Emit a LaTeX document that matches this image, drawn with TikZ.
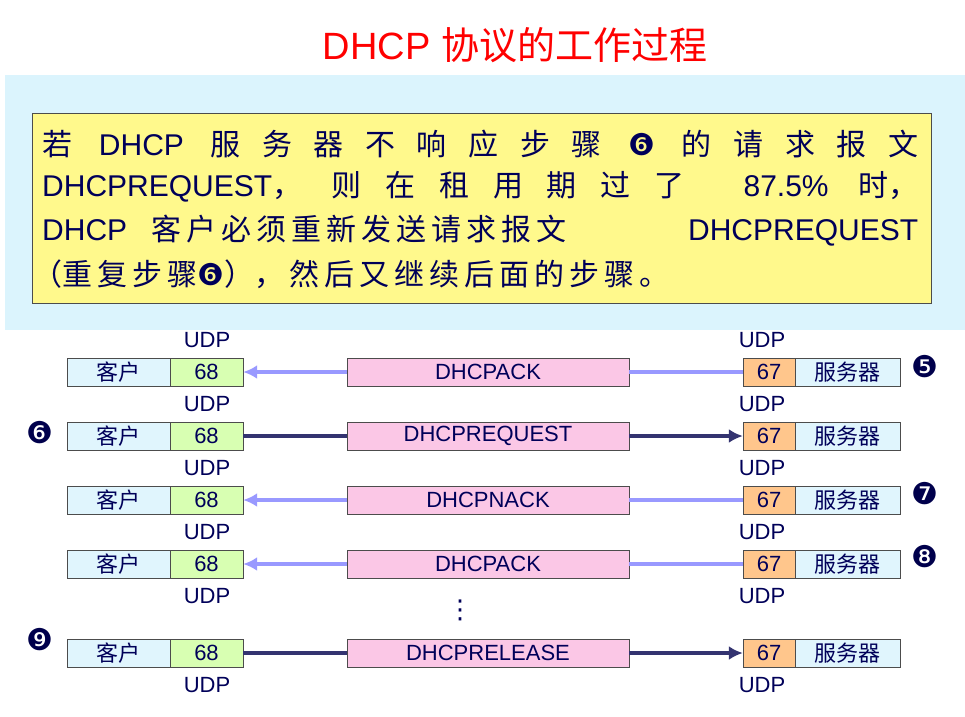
\documentclass[tikz,border=0pt]{standalone}
\usepackage{fontspec}
\usetikzlibrary{arrows.meta}
\setmainfont{Liberation Sans}
\newfontfamily\cjk{Noto Sans CJK SC}
\newfontfamily\djv{DejaVu Sans}
\def\k{\kern5pt}
\begin{document}
\begin{tikzpicture}[x=1pt,y=-1pt,
 bx/.style={draw=black!70,minimum height=28pt,inner sep=0pt,font=\fontsize{22}{24}\selectfont,text=blue!35!black},
 cl/.style={bx,fill=cyan!12,minimum width=103pt},
 pa/.style={bx,fill=green!35!lime!30,minimum width=73pt},
 pb/.style={bx,fill=orange!45,minimum width=52pt},
 ms/.style={bx,fill=magenta!22,minimum width=282pt},
 udp/.style={font=\fontsize{22}{24}\selectfont,inner sep=0pt,text=blue!35!black},
 num/.style={font=\djv\fontsize{30}{30}\selectfont,text=blue!30!black},
 la/.style={line width=3.5pt,draw=blue!40,-{Latex[length=14pt,width=14pt]}},
 ra/.style={line width=3.5pt,draw=blue!30!black!80,-{Latex[length=14pt,width=14pt]}}]
\useasboundingbox (0,0) rectangle (965,716);
\fill[white] (0,0) rectangle (965,716);
\node[text=red,font=\fontsize{38}{40}\selectfont] (title) at (515,45) {DHCP {\cjk 协议的工作过程}};
\fill[cyan!14] (5,75) rectangle (965,330);
\node[draw=black!70,fill=yellow!45,minimum width=899pt,minimum height=190pt] (yb) at (482,208) {};
\begin{scope}[font=\fontsize{30}{32}\selectfont,text=blue!35!black]
\node[anchor=west,inner sep=0pt] (l1) at (42,144) {\makebox[876pt][s]{{\cjk 若} DHCP {\cjk 服 务 器 不 响 应 步 骤} {\djv ❻} {\cjk 的 请 求 报 文}}};
\node[anchor=west,inner sep=0pt] (l2) at (42,187) {\makebox[876pt][s]{DHCPREQUEST{\cjk ，} {\cjk 则 在 租 用 期 过 了} \ 87.5\% {\cjk 时，}}};
\node[anchor=west,inner sep=0pt] (l3) at (42,231) {\makebox[876pt][s]{DHCP\hspace{24pt}{\cjk 客\k 户\k 必\k 须\k 重\k 新\k 发\k 送\k 请\k 求\k 报\k 文}\hfill DHCPREQUEST}};
\node[anchor=west,inner sep=0pt] (l4) at (32,274) {{\cjk （重\k 复\k 步\k 骤}{\djv ❻}{\cjk ），\k 然\k 后\k 又\k 继\k 续\k 后\k 面\k 的\k 步\k 骤\k 。}};
\end{scope}
\foreach \i/\y/\m in {1/372/DHCPACK,2/436/DHCPREQUEST,3/500/DHCPNACK,4/564/DHCPACK,5/653/DHCPRELEASE}{
 \node[cl] (c\i) at (118.5,\y) {\cjk 客户};
 \node[pa] (a\i) at (206.5,\y) {68};
 \node[ms] (m\i) at (488,\y) {\m};
 \node[pb] (b\i) at (769,\y) {67};
 \node[cl,minimum width=105pt] (s\i) at (847.5,\y) {\cjk 服务器};
 \node[udp] (ub\i) at (207,\y+32) {UDP};
 \node[udp] (vb\i) at (762,\y+32) {UDP};
}
\node[udp] (ua1) at (207,340) {UDP};
\node[udp] (va1) at (762,340) {UDP};
\draw[la] (m1.west) -- (a1.east); \draw[la,-] (b1.west) -- (m1.east);
\draw[la] (m3.west) -- (a3.east); \draw[la,-] (b3.west) -- (m3.east);
\draw[la] (m4.west) -- (a4.east); \draw[la,-] (b4.west) -- (m4.east);
\draw[ra,-] (a2.east) -- (m2.west); \draw[ra] (m2.east) -- (b2.west);
\draw[ra,-] (a5.east) -- (m5.west); \draw[ra] (m5.east) -- (b5.west);
\node[num] (n5) at (925,367) {❺};
\node[num] (n6) at (40,433) {❻};
\node[num] (n7) at (925,494) {❼};
\node[num] (n8) at (925,557) {❽};
\node[num] (n9) at (40,640) {❾};
\node[font=\djv\fontsize{26}{26}\selectfont,text=blue!35!black] (dots) at (460,610) {⋮};
\end{tikzpicture}
\end{document}
